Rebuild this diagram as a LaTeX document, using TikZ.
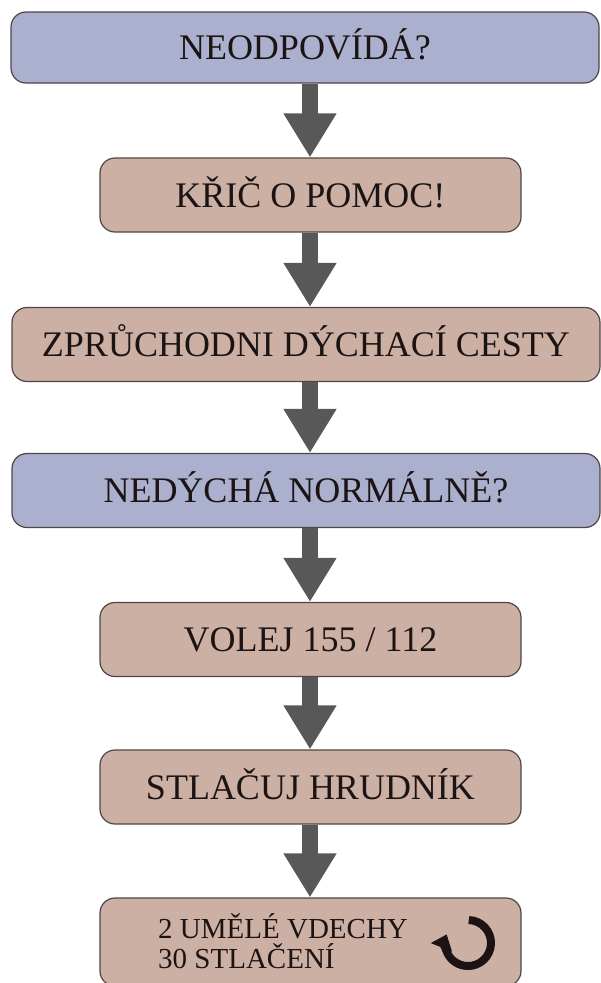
\documentclass[tikz,border=0pt]{standalone}
\usepackage{fontspec}
\setmainfont{Liberation Serif}
\usepackage{tikz}
\usetikzlibrary{positioning,arrows.meta}

\definecolor{askblue}{RGB}{170,176,206}
\definecolor{actbrown}{RGB}{205,176,164}
\definecolor{flowgrey}{RGB}{88,88,88}
\definecolor{boxline}{RGB}{78,70,70}
\definecolor{inkblack}{RGB}{28,20,20}

\begin{document}
\begin{tikzpicture}[x=1pt, y=1pt,
        box/.style={draw=boxline, line width=1.2pt, rounded corners=15pt, inner sep=0pt,
            text=inkblack, font=\fontsize{36}{40}\selectfont, text height=24pt, text depth=0pt},
        ask/.style={box, fill=askblue, minimum width=588pt, minimum height=74pt},
        act/.style={box, fill=actbrown, minimum width=421pt, minimum height=74pt},
        flow/.style={draw=flowgrey, line width=16pt, -{Triangle[length=44pt, width=50pt]}}]
    \useasboundingbox (0,0) rectangle (601,-983);

    \coordinate (axis) at (310,0);

    \node[ask, minimum height=71pt] (unresponsive) at (305,-47.5) {NEODPOVÍDÁ?};
    \node[act] (shout) at (310.5,-195) {KŘIČ O POMOC!};
    \node[act, minimum width=588pt] (airway) at (306,-344.5) {ZPRŮCHODNI DÝCHACÍ CESTY};
    \node[ask] (breathing) at (306,-490.5) {NEDÝCHÁ NORMÁLNĚ?};
    \node[act] (call) at (310.5,-639.5) {VOLEJ 155 / 112};
    \node[act] (compress) at (310.5,-787) {STLAČUJ HRUDNÍK};
    \node[act, minimum height=88pt] (cycle) at (310.5,-942) {};

    \node[anchor=west, align=left, inner sep=0pt, text=inkblack,
        font=\fontsize{29}{30}\selectfont] (cycletext) at (158,-941) {2 UMĚLÉ VDECHY\\30 STLAČENÍ};
    \coordinate (loop) at (468,-943);
    \draw[inkblack, line width=8pt, -{Triangle[length=14pt, width=22pt]}]
        ([shift={(88:23pt)}]loop) arc[start angle=88, end angle=-202, radius=23pt];

    \draw[flow] (unresponsive.south -| axis) -- (shout.north -| axis);
    \draw[flow] (shout.south -| axis) -- (airway.north -| axis);
    \draw[flow] (airway.south -| axis) -- (breathing.north -| axis);
    \draw[flow] (breathing.south -| axis) -- (call.north -| axis);
    \draw[flow] (call.south -| axis) -- (compress.north -| axis);
    \draw[flow] (compress.south -| axis) -- (cycle.north -| axis);
\end{tikzpicture}
\end{document}
